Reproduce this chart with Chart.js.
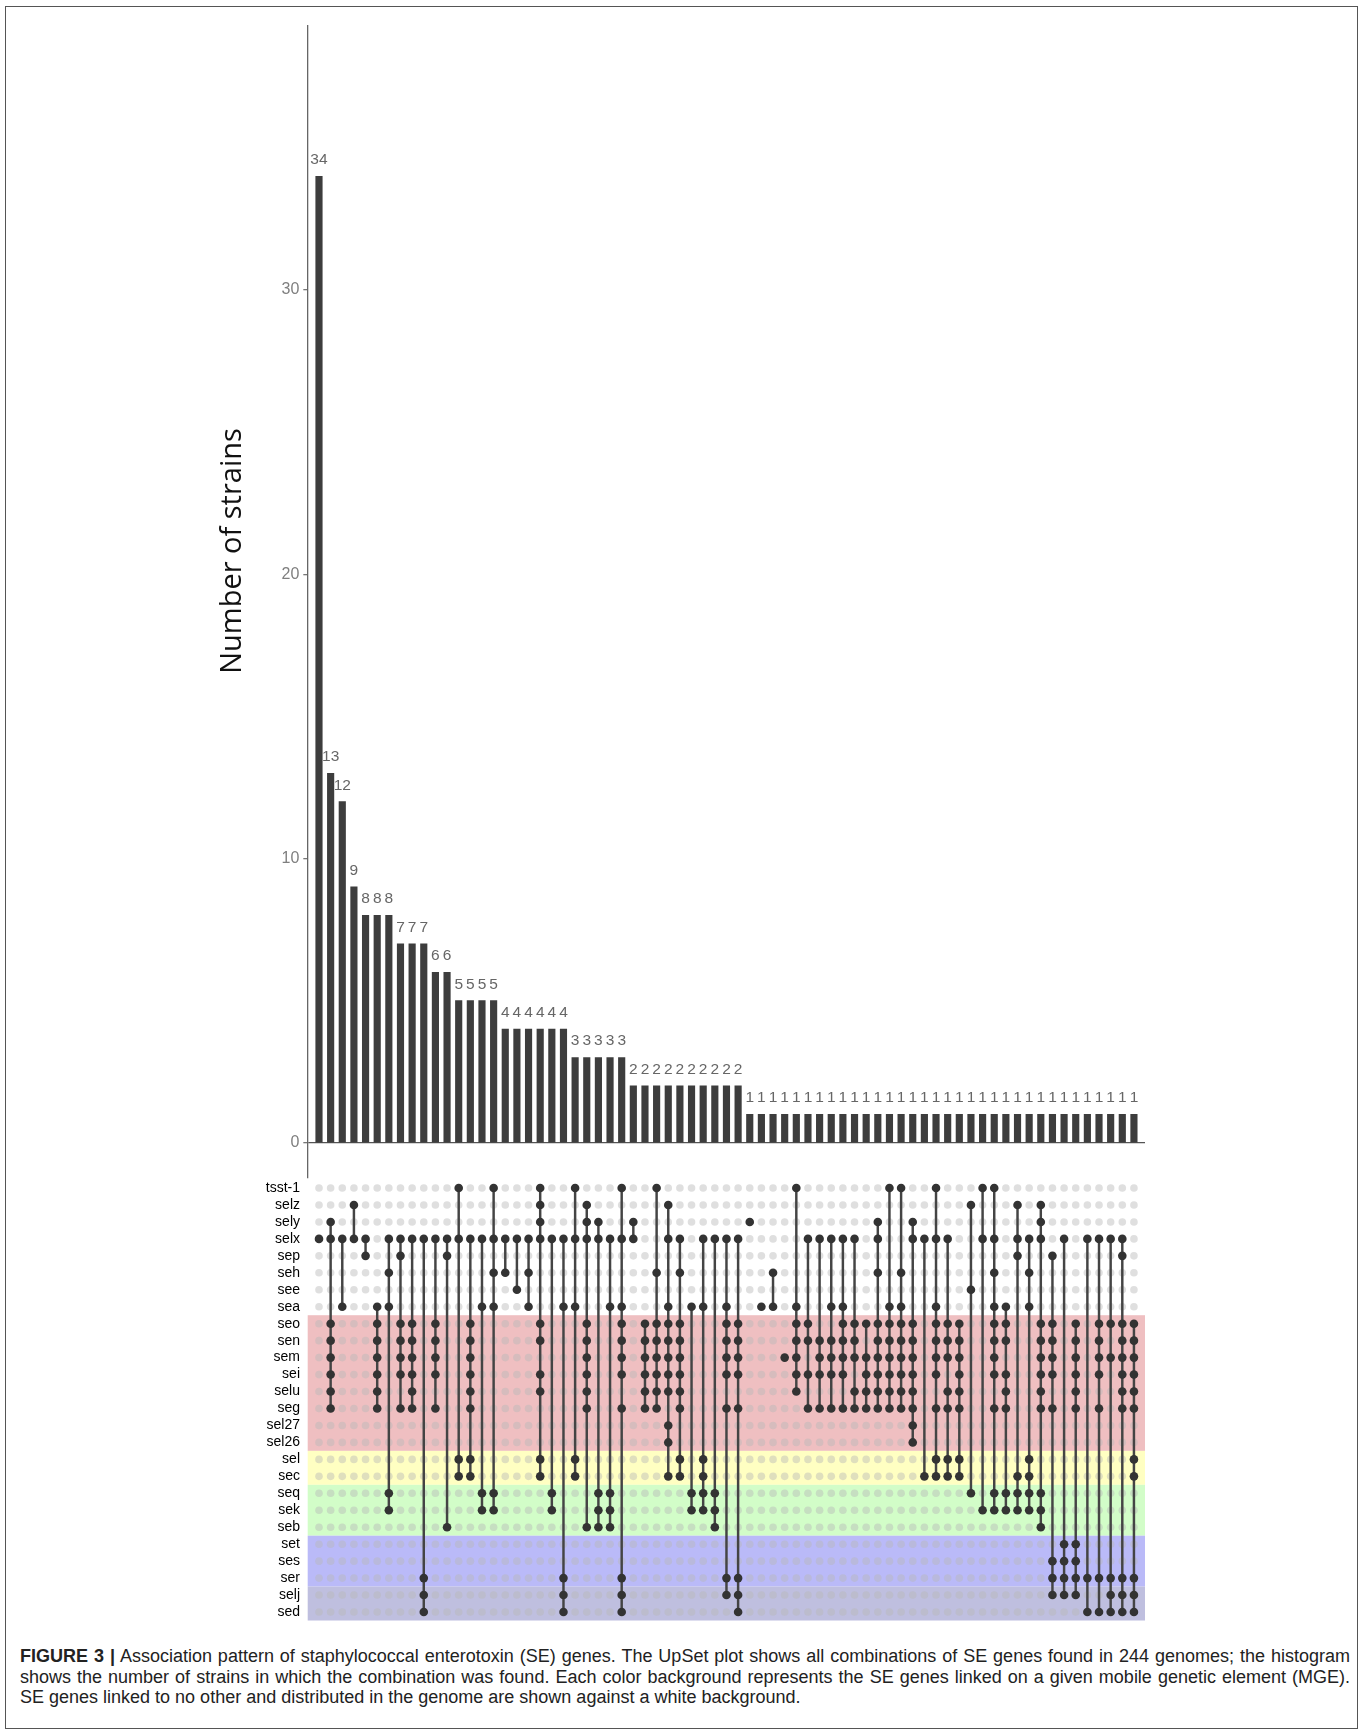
<!DOCTYPE html>
<html>
<head>
<meta charset="utf-8">
<script src="https://cdn.jsdelivr.net/npm/chart.js@4.4.1/dist/chart.umd.min.js"></script>
<style>
  body { margin: 0; background: #fff; }
  #frame { position: absolute; left: 5px; top: 6px; width: 1353px; height: 1723px; border: 1px solid #555; box-sizing: border-box; }
  #wrap { position: absolute; left: 0; top: 0; width: 1363px; height: 1640px; }
  #caption { position: absolute; left: 20px; top: 1646px; width: 1330px; font-family: "Liberation Sans", Arial, sans-serif; font-size: 18px; color: #222; line-height: 20.5px; }
  .ln { white-space: nowrap; text-align: justify; text-align-last: justify; }
  .ln.last { text-align-last: left; }
</style>
</head>
<body>
<div id="frame"></div>
<div id="wrap"><canvas id="upset" width="1363" height="1640"></canvas></div>
<div id="caption">
  <div class="ln"><b>FIGURE 3 |</b> Association pattern of staphylococcal enterotoxin (SE) genes. The UpSet plot shows all combinations of SE genes found in 244 genomes; the histogram</div>
  <div class="ln">shows the number of strains in which the combination was found. Each color background represents the SE genes linked on a given mobile genetic element (MGE).</div>
  <div class="ln last">SE genes linked to no other and distributed in the genome are shown against a white background.</div>
</div>
<script>
// Genes (matrix rows, top to bottom)
const rowNames = ['tsst-1', 'selz', 'sely', 'selx', 'sep', 'seh', 'see', 'sea',
  'seo', 'sen', 'sem', 'sei', 'selu', 'seg', 'sel27', 'sel26',
  'sel', 'sec', 'seq', 'sek', 'seb', 'set', 'ses', 'ser', 'selj', 'sed'];

// Number of strains per combination (71 combinations)
const counts = [34, 13, 12, 9, 8, 8, 8, 7, 7, 7, 6, 6, 5, 5, 5, 5,
  4, 4, 4, 4, 4, 4, 3, 3, 3, 3, 3, 2, 2, 2, 2, 2, 2, 2, 2, 2, 2,
  1, 1, 1, 1, 1, 1, 1, 1, 1, 1, 1, 1, 1, 1, 1, 1, 1,
  1, 1, 1, 1, 1, 1, 1, 1, 1, 1, 1, 1, 1, 1, 1, 1, 1];

// Genes present in each combination (same order as counts)
const combos = [
  'selx',
  'sely selx seo sen sem sei selu seg',
  'selx sea',
  'selz selx',
  'selx sep',
  'sea seo sen sem sei selu seg',
  'selx seh sea seq sek',
  'selx sep seo sen sem sei seg',
  'selx seo sen sem sei selu seg',
  'selx ser selj sed',
  'selx seo sen sem sei seg',
  'selx sep seb',
  'tsst-1 selx sel sec',
  'selx seo sen sem sei selu seg sel sec',
  'selx sea seq sek',
  'tsst-1 selx seh sea seq sek',
  'selx seh',
  'selx see',
  'selx seh sea',
  'tsst-1 selz sely selx seo sen sei selu sel sec',
  'selx seq sek',
  'selx sea ser selj sed',
  'tsst-1 selx sea sel sec',
  'selz sely selx seo sen sem sei selu seg seb',
  'sely selx seq sek seb',
  'selx sea seq sek seb',
  'tsst-1 selx sea seo sen sem sei seg ser selj sed',
  'sely selx',
  'seo sen sem sei selu seg',
  'tsst-1 seh seo sen sem sei selu seg',
  'selz selx sea seo sen sem sei selu sel27 sel26 sec',
  'selx seh seo sen sem sei selu seg sel sec',
  'sea seq sek',
  'selx sea sel sec seq sek',
  'selx seq sek seb',
  'selx sea seo sen sem sei seg ser selj',
  'selx seo sen sem sei seg ser selj sed',
  'sely',
  'sea',
  'seh sea',
  'sem',
  'tsst-1 sea seo sen sem sei selu',
  'selx seo sen sei seg',
  'selx sen sem sei seg',
  'selx sea sen sem sei seg',
  'selx sea seo sen sem sei seg',
  'selx seo sen sem selu seg',
  'seo sem sei selu seg',
  'sely selx seh seo sen sem sei selu seg',
  'tsst-1 sea seo sen sem sei selu seg',
  'tsst-1 seh sea seo sen sem sei selu seg',
  'sely selx seo sen sem sei selu seg sel27 sel26',
  'selx sec',
  'tsst-1 selx sea seo sen sem sei seg sel sec',
  'selx seo sen sem selu seg sel sec',
  'seo sen sem sei selu seg sel sec',
  'selz see seq',
  'tsst-1 selx sek',
  'tsst-1 selx seh sea seo sen sem sei seg seq sek',
  'sea seo sen sei selu seg seq sek',
  'selz selx sep sec seq sek',
  'selx seh sea sel sec seq sek',
  'selz sely selx seo sen sem sei selu seg seq sek seb',
  'sep seo sen sem sei seg ses ser selj',
  'selx set ses ser selj',
  'seo sen sem sei selu seg set ses ser selj',
  'selx ser sed',
  'selx seo sen sem sei seg ser sed',
  'selx seo sem ser selj sed',
  'selx sep seo sen sem sei selu seg ser selj sed',
  'seo sen sem sei selu seg sel sec ser selj sed'
];

// Genes linked on the same mobile genetic element (first, last row)
const mgeGroups = [['seo', 'sel26'], ['sel', 'sec'], ['seq', 'seb'], ['set', 'ser'], ['selj', 'sed']];
const mgeColors = ['#efbfc1', '#ffffc2', '#d2fdc8', '#babaf8', '#bfbfdf'];

const yTicks = [0, 10, 20, 30];

const rowIdx = name => rowNames.indexOf(name);
const members = combos.map(c => c.split(' ').map(rowIdx));

const barData = counts.map((v, i) => ({ x: i, y: v }));
const emptyDots = [];
members.forEach((m, i) => rowNames.forEach((_, r) => emptyDots.push({ x: i, y: r })));
const fullDots = members.flatMap((m, i) => m.map(r => ({ x: i, y: r })));
const links = members.map((m, i) => ({ x: i, y: m.length > 1 ? [Math.min(...m), Math.max(...m)] : null }));

const bands = {
  id: 'bands',
  beforeDatasetsDraw(chart) {
    const { ctx, chartArea } = chart;
    const y2 = chart.scales.y2;
    ctx.save();
    mgeGroups.forEach((g, k) => {
      const top = y2.getPixelForValue(rowIdx(g[0]) - 0.5);
      const bot = y2.getPixelForValue(rowIdx(g[1]) + 0.5);
      ctx.fillStyle = mgeColors[k];
      ctx.fillRect(chartArea.left, top, chartArea.right - chartArea.left, bot - top);
    });
    ctx.restore();
  }
};

const barLabels = {
  id: 'barLabels',
  afterDatasetsDraw(chart) {
    const meta = chart.getDatasetMeta(0);
    const ctx = chart.ctx;
    ctx.save();
    ctx.font = '15.5px "Liberation Sans", Arial, sans-serif';
    ctx.fillStyle = '#666';
    ctx.textAlign = 'center';
    ctx.textBaseline = 'alphabetic';
    meta.data.forEach((bar, i) => ctx.fillText(String(counts[i]), bar.x, bar.y - 12));
    ctx.restore();
  }
};

const yTitle = {
  id: 'yTitle',
  afterDraw(chart) {
    const ctx = chart.ctx;
    ctx.save();
    ctx.translate(241, 551);
    ctx.rotate(-Math.PI / 2);
    ctx.font = '29px "Open Sans", sans-serif';
    ctx.fillStyle = '#111';
    ctx.textAlign = 'center';
    ctx.textBaseline = 'alphabetic';
    ctx.fillText('Number of strains', 0, 0);
    ctx.restore();
  }
};

new Chart(document.getElementById('upset'), {
  type: 'bar',
  data: {
    datasets: [
      { type: 'bar', data: barData, yAxisID: 'y', backgroundColor: '#3d3d3d', barThickness: 6.5, grouped: false, order: 5 },
      { type: 'scatter', data: emptyDots, yAxisID: 'y2', backgroundColor: 'rgba(185,185,185,0.45)', borderWidth: 0, pointRadius: 3.8, order: 4 },
      { type: 'bar', data: links, yAxisID: 'y2', backgroundColor: '#444', barThickness: 1.8, grouped: false, order: 3 },
      { type: 'scatter', data: fullDots, yAxisID: 'y2', backgroundColor: '#333', borderWidth: 0, pointRadius: 4.3, order: 1 }
    ]
  },
  options: {
    responsive: false,
    animation: false,
    events: [],
    layout: { padding: { top: 25.7, right: 218, bottom: 20, left: 0 } },
    plugins: { legend: { display: false }, tooltip: { enabled: false } },
    scales: {
      x: { type: 'linear', min: -0.97, max: 70.95, offset: false, display: false },
      y2: {
        type: 'linear', position: 'left', stack: 'v', stackWeight: 442,
        reverse: true, min: -0.59, max: 25.47,
        afterBuildTicks: s => { s.ticks = rowNames.map((_, i) => ({ value: i })); },
        afterFit: s => { s.width = 307.7; },
        ticks: { autoSkip: false, padding: 7.7, color: '#000', font: { family: '"Liberation Sans", Arial', size: 14 }, callback: v => rowNames[v] },
        grid: { display: false, drawTicks: false },
        border: { display: false }
      },
      y: {
        type: 'linear', position: 'left', stack: 'v', stackWeight: 1152.3,
        min: -1.24, max: 39.3,
        afterBuildTicks: s => { s.ticks = yTicks.map(v => ({ value: v })); },
        afterFit: s => { s.width = 307.7; },
        ticks: { padding: 4, color: '#7f7f7f', font: { family: '"Liberation Sans", Arial', size: 16 } },
        grid: {
          color: c => (c.tick && c.tick.value === 0 ? '#555' : 'rgba(0,0,0,0)'),
          tickColor: '#777', tickLength: 4.4, lineWidth: 1.3
        },
        border: { display: true, color: '#666', width: 1.3 }
      }
    }
  },
  plugins: [bands, barLabels, yTitle]
});
</script>
</body>
</html>
